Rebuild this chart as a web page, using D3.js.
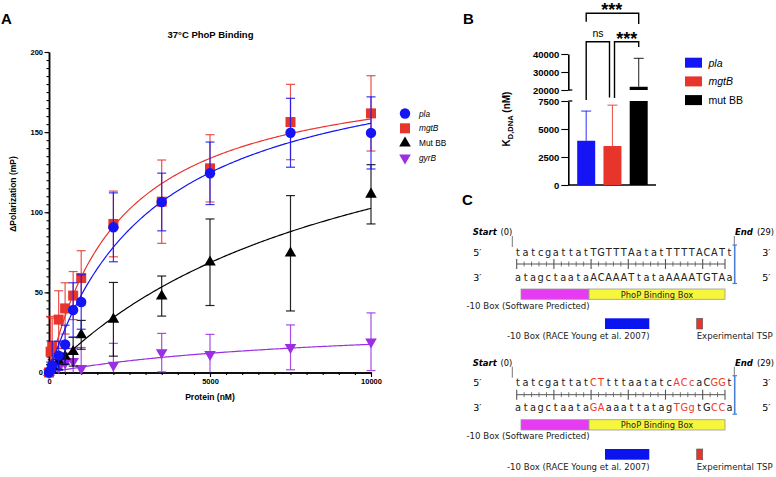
<!DOCTYPE html>
<html><head><meta charset="utf-8">
<script src="https://cdn.jsdelivr.net/npm/d3@7"></script>
<style>body{margin:0;background:#fff}</style>
</head><body><svg id="c" width="776" height="477"></svg>
<script>
// ---------- Panel A data ----------
const conc = [0, 50, 100, 300, 500, 750, 1000, 2000, 3500, 5000, 7500, 10000];
const plaMean  = [0, 1.5, 4.5, 10.5, 17.5, 39, 44, 90.6, 106.4, 124.3, 149.6, 149.5];
const plaSD    = [0, 5, 15, 9, 12, 17, 17, 21.5, 18, 19.5, 21.5, 22.5];
const mgtBMean = [0, 13, 16, 33, 40, 48, 59, 92.7, 106.6, 127.4, 156.3, 161.7];
const mgtBSD   = [0, 22, 18, 18, 16, 15, 17, 20.5, 26, 21, 23.5, 23.5];
const mutMean  = [0, 2, 4, 7, 10, 13, 23.5, 33.2, 47.7, 68.8, 74.4, 111.2];
const mutSD    = [0, 3, 4, 5, 5, 9, 9, 23, 12.5, 27, 36, 18.5];
const gyrBMean = [0, 0.5, 1, 3, 6, 7, 2.6, 4.7, 12.4, 11.3, 15.7, 19.2];
const gyrBSD   = [0, 2, 3, 5, 6, 8, 13, 13.5, 12, 12.5, 14, 18];
const seriesNames = ['pla', 'mgtB', 'Mut BB', 'gyrB'];
// one-site binding fit parameters (Bmax, Kd) per series
const fitBmax = [206.5, 193.9, 202.8, 33];
const fitKd   = [3280, 2255, 9800, 8760];
const xTicksA = [0, 5000, 10000];
const yTicksA = [0, 50, 100, 150, 200];

// ---------- Panel B data ----------
const kdCats = ['pla', 'mgtB', 'mut BB'];
const kdMean = [3950, 3480, 21800];
const kdErr  = [2650, 3650, 15800];
const yTicksBLow  = [0, 2500, 5000, 7500];
const yTicksBHigh = [20000, 30000, 40000];

// ---------- Panel C data ----------
const seq1Top = "tatcgattatTGTTTAatatTTTTACATt";
const seq1Bot = "atagctaataACAAATtataAAAATGTAa";
const seq2Top = "tatcgattatCTtttaatatcACcaCGGt";
const seq2Bot = "atagctaataGAaaattatagTGgtGCCa";
const seq2Mut = [10, 11, 21, 22, 23, 26, 27];

const BLUE = '#1414f5', RED = '#e8352b', BLACK = '#000', PURPLE = '#9a2fe3';
const svg = d3.select('#c');
svg.append('rect').attr('width', 776).attr('height', 477).attr('fill', '#fff');
const ARIAL = '"Liberation Sans", Arial, sans-serif';
const VERD = '"DejaVu Sans", Verdana, sans-serif';
const fmt = d3.format('d');

// ================= PANEL A =================
const xA = d3.scaleLinear().domain([0, 10000]).range([49, 371]);
const yA = d3.scaleLinear().domain([0, 200]).range([372.5, 52]);
const A = svg.append('g').attr('font-family', ARIAL);

A.append('text').attr('x', 1).attr('y', 24).attr('font-size', 15).attr('font-weight', 'bold').text('A');
A.append('text').attr('x', 210.5).attr('y', 38).attr('text-anchor', 'middle').attr('font-size', 9.5)
  .attr('font-weight', 'bold').text('37°C PhoP Binding');

function styleAxis(g, w) {
  g.select('.domain').attr('stroke', '#000').attr('stroke-width', w);
  g.selectAll('.tick line').attr('stroke', '#000').attr('stroke-width', 1.1);
  g.selectAll('text').attr('font-family', ARIAL).attr('font-weight', 'bold').attr('fill', '#000');
}
// minor ticks
const yMinor = d3.range(0, 201, 5), xMinor = d3.range(0, 10001, 500);
A.append('g').attr('transform', 'translate(49,0)')
  .call(d3.axisLeft(yA).tickValues(yMinor).tickSize(2.5).tickSizeOuter(0).tickFormat(''))
  .call(g => styleAxis(g, 1.5));
A.append('g').attr('transform', 'translate(0,372.5)')
  .call(d3.axisBottom(xA).tickValues(xMinor).tickSize(2.5).tickSizeOuter(0).tickFormat(''))
  .call(g => styleAxis(g, 1.5));
// major ticks
A.append('g').attr('transform', 'translate(49,0)')
  .call(d3.axisLeft(yA).tickValues(yTicksA).tickSize(4.5).tickPadding(1.5).tickSizeOuter(0).tickFormat(fmt))
  .call(g => styleAxis(g, 1.5)).attr('font-size', 7.5);
A.append('g').attr('transform', 'translate(0,372.5)')
  .call(d3.axisBottom(xA).tickValues(xTicksA).tickSize(4.5).tickPadding(2).tickSizeOuter(0).tickFormat(fmt))
  .call(g => styleAxis(g, 1.5)).attr('font-size', 7.5);

A.append('text').attr('x', 210).attr('y', 400).attr('text-anchor', 'middle').attr('font-size', 8.5)
  .attr('font-weight', 'bold').text('Protein (nM)');
A.append('text').attr('transform', 'translate(16,194) rotate(-90)').attr('text-anchor', 'middle')
  .attr('font-size', 8.5).attr('font-weight', 'bold').text('ΔPolarization (mP)');

const series = [
  {name: seriesNames[3], mean: gyrBMean, sd: gyrBSD, color: PURPLE, sym: 'down', bmax: fitBmax[3], kd: fitKd[3]},
  {name: seriesNames[2], mean: mutMean, sd: mutSD, color: BLACK, sym: 'up', bmax: fitBmax[2], kd: fitKd[2]},
  {name: seriesNames[1], mean: mgtBMean, sd: mgtBSD, color: RED, sym: 'square', bmax: fitBmax[1], kd: fitKd[1]},
  {name: seriesNames[0], mean: plaMean, sd: plaSD, color: BLUE, sym: 'circle', bmax: fitBmax[0], kd: fitKd[0]},
];
function marker(g, sym, x, y, color) {
  if (sym === 'circle') g.append('circle').attr('cx', x).attr('cy', y).attr('r', 5.2).attr('fill', color);
  else if (sym === 'square') g.append('rect').attr('x', x - 5).attr('y', y - 5).attr('width', 10).attr('height', 10).attr('fill', color);
  else {
    const p = d3.symbol().type(d3.symbolTriangle).size(58)();
    g.append('path').attr('d', p).attr('fill', color)
      .attr('transform', `translate(${x},${y})` + (sym === 'down' ? ' rotate(180)' : ''));
  }
}
const curveX = d3.range(0, 10001, 50);
series.forEach(s => {
  const g = A.append('g');
  conc.forEach((c, i) => {
    if (!s.sd[i]) return;
    const x = xA(c);
    const hi = s.mean[i] + s.sd[i];
    const loRaw = s.mean[i] - s.sd[i];
    const lo = Math.max(0, loRaw);
    g.append('line').attr('x1', x).attr('x2', x).attr('y1', yA(lo)).attr('y2', yA(hi))
      .attr('stroke', s.color).attr('stroke-width', 1.2).attr('opacity', 0.85);
    g.append('line').attr('x1', x - 4.5).attr('x2', x + 4.5).attr('y1', yA(hi)).attr('y2', yA(hi))
      .attr('stroke', s.color).attr('stroke-width', 1.2).attr('opacity', 0.85);
    if (loRaw > 0)
      g.append('line').attr('x1', x - 4.5).attr('x2', x + 4.5).attr('y1', yA(lo)).attr('y2', yA(lo))
        .attr('stroke', s.color).attr('stroke-width', 1.2).attr('opacity', 0.85);
  });
  g.append('path').datum(curveX)
    .attr('d', d3.line().x(d => xA(d)).y(d => yA(s.bmax * d / (s.kd + d))))
    .attr('fill', 'none').attr('stroke', s.color).attr('stroke-width', 1.2);
  conc.forEach((c, i) => marker(g, s.sym, xA(c), yA(s.mean[i]), s.color));
});

// legend A
const legA = A.append('g');
[series[3], series[2], series[1], series[0]].forEach((s, i) => {
  const y = 113.5 + i * 14.8;
  marker(legA, s.sym, 405, y, s.color);
  legA.append('text').attr('x', 419).attr('y', y + 3).attr('font-size', 8.3)
    .attr('font-style', s.name === 'Mut BB' ? 'normal' : 'italic').text(s.name);
});

// ================= PANEL B =================
const B = svg.append('g').attr('font-family', ARIAL);
B.append('text').attr('x', 463).attr('y', 24).attr('font-size', 15).attr('font-weight', 'bold').text('B');
const axX = 568.3;
const yLow = d3.scaleLinear().domain([0, 7500]).range([185, 101]);
const yHigh = d3.scaleLinear().domain([20000, 40000]).range([90, 54]);
const xB = d3.scalePoint().domain(kdCats).range([586.2, 638.7]);
const barW = 18;
const bColors = [BLUE, RED, BLACK];

B.append('g').attr('transform', `translate(${axX},0)`)
  .call(d3.axisLeft(yLow).tickValues(yTicksBLow).tickSize(7).tickPadding(2).tickSizeOuter(0).tickFormat(fmt))
  .call(g => styleAxis(g, 1.6)).attr('font-size', 9.5);
B.append('g').attr('transform', `translate(${axX},0)`)
  .call(d3.axisLeft(yHigh).tickValues(yTicksBHigh).tickSize(7).tickPadding(2).tickSizeOuter(0).tickFormat(fmt))
  .call(g => styleAxis(g, 1.6)).attr('font-size', 9.5);
[yLow(7500), yHigh(20000)].forEach(y => B.append('line').attr('x1', axX).attr('x2', axX + 4)
  .attr('y1', y).attr('y2', y).attr('stroke', '#000').attr('stroke-width', 1.3));
B.append('line').attr('x1', axX).attr('x2', 656).attr('y1', 185).attr('y2', 185)
  .attr('stroke', '#000').attr('stroke-width', 1.6);

kdCats.forEach((c, i) => {
  const cx = xB(c), v = kdMean[i], top = v + kdErr[i];
  const vl = Math.min(v, 7500);
  B.append('rect').attr('x', cx - barW / 2).attr('width', barW).attr('y', yLow(vl)).attr('height', yLow(0) - yLow(vl))
    .attr('fill', bColors[i]);
  let yTopBar;
  if (v > 20000) {
    B.append('rect').attr('x', cx - barW / 2).attr('width', barW).attr('y', yHigh(v)).attr('height', yHigh(20000) - yHigh(v))
      .attr('fill', bColors[i]);
    yTopBar = yHigh(v);
  } else yTopBar = yLow(v);
  const yErr = top > 20000 ? yHigh(top) : yLow(top);
  B.append('line').attr('x1', cx).attr('x2', cx).attr('y1', yTopBar).attr('y2', yErr)
    .attr('stroke', bColors[i]).attr('stroke-width', 1.1).attr('opacity', 0.8);
  B.append('line').attr('x1', cx - 5).attr('x2', cx + 5).attr('y1', yErr).attr('y2', yErr)
    .attr('stroke', bColors[i]).attr('stroke-width', 1.1).attr('opacity', 0.8);
});
B.append('text').attr('transform', 'translate(510,119) rotate(-90)').attr('text-anchor', 'middle')
  .attr('font-size', 10).attr('font-weight', 'bold')
  .call(t => {
    t.append('tspan').text('K');
    t.append('tspan').attr('font-size', 7.5).attr('dy', 2.5).text('D,DNA');
    t.append('tspan').attr('dy', -2.5).text(' (nM)');
  });
const br = (pts) => B.append('path').attr('d', d3.line()(pts)).attr('fill', 'none')
  .attr('stroke', '#000').attr('stroke-width', 1.4);
br([[xB('pla'), 21.7], [xB('pla'), 13.3], [xB('mut BB'), 13.3], [xB('mut BB'), 24]]);
br([[xB('pla'), 100], [xB('pla'), 41.7], [609.5, 41.7], [609.5, 97.5]]);
br([[614.5, 98], [614.5, 41.7], [xB('mut BB'), 41.7], [xB('mut BB'), 47]]);
B.append('text').attr('x', 611.7).attr('y', 16).attr('text-anchor', 'middle').attr('font-size', 18)
  .attr('font-weight', 'bold').text('***');
B.append('text').attr('x', 626.7).attr('y', 44.5).attr('text-anchor', 'middle').attr('font-size', 18)
  .attr('font-weight', 'bold').text('***');
B.append('text').attr('x', 598).attr('y', 36.5).attr('text-anchor', 'middle').attr('font-size', 10.5).text('ns');
kdCats.forEach((c, i) => {
  const y = 57.7 + i * 18.7;
  B.append('rect').attr('x', 685).attr('y', y).attr('width', 17).attr('height', 10).attr('fill', bColors[i]);
  B.append('text').attr('x', 708.5).attr('y', y + 9).attr('font-size', 10.5)
    .attr('font-style', i < 2 ? 'italic' : 'normal').text(c);
});

// ================= PANEL C =================
const C = svg.append('g').attr('font-family', VERD);
C.append('text').attr('x', 462).attr('y', 204.5).attr('font-family', ARIAL).attr('font-size', 15)
  .attr('font-weight', 'bold').text('C');
const charX = d3.scaleLinear().domain([0, 28]).range([518, 729.5]);
const rulerX = d3.scaleLinear().domain([0, 28]).range([516.7, 725]);

function drawSection(dy, top, bot, mut) {
  const g = C.append('g').attr('transform', `translate(0,${dy})`);
  g.append('text').attr('x', 472.7).attr('y', 235).attr('font-size', 8.5).attr('font-weight', 'bold')
    .attr('font-style', 'italic').text('Start');
  g.append('text').attr('x', 500.5).attr('y', 235).attr('font-size', 8.3).text('(0)');
  g.append('text').attr('x', 735).attr('y', 235).attr('font-size', 8.5).attr('font-weight', 'bold')
    .attr('font-style', 'italic').text('End');
  g.append('text').attr('x', 757).attr('y', 235).attr('font-size', 8.3).text('(29)');
  g.append('line').attr('x1', 512.3).attr('x2', 512.3).attr('y1', 236).attr('y2', 247).attr('stroke', '#777').attr('stroke-width', 1);
  g.append('line').attr('x1', 734.3).attr('x2', 734.3).attr('y1', 236).attr('y2', 246).attr('stroke', '#777').attr('stroke-width', 1);
  g.append('line').attr('x1', 734.7).attr('x2', 734.7).attr('y1', 245).attr('y2', 283.5).attr('stroke', '#4a7fd6').attr('stroke-width', 1.6);
  [245, 283.5].forEach(y => g.append('line').attr('x1', 732.5).attr('x2', 737).attr('y1', y).attr('y2', y)
    .attr('stroke', '#4a7fd6').attr('stroke-width', 1.2));
  g.append('text').attr('x', 473.3).attr('y', 255.7).attr('font-size', 9.5).text('5′');
  g.append('text').attr('x', 762.3).attr('y', 255.7).attr('font-size', 9.5).text('3′');
  g.append('text').attr('x', 473.3).attr('y', 280.7).attr('font-size', 9.5).text('3′');
  g.append('text').attr('x', 762.3).attr('y', 280.7).attr('font-size', 9.5).text('5′');
  [[top, 255.7], [bot, 280.7]].forEach(([s, y]) => {
    s.split('').forEach((ch, i) => {
      g.append('text').attr('x', charX(i)).attr('y', y).attr('text-anchor', 'middle').attr('font-size', 9.8)
        .attr('fill', mut.includes(i) ? '#ee3b2c' : '#222').text(ch);
    });
  });
  g.append('line').attr('x1', rulerX(0)).attr('x2', rulerX(28)).attr('y1', 264).attr('y2', 264).attr('stroke', '#555').attr('stroke-width', 1);
  d3.range(0, 29).forEach(i => {
    const major = i % 5 === 0 || i === 28;
    g.append('line').attr('x1', rulerX(i)).attr('x2', rulerX(i))
      .attr('y1', major ? 259 : 261.5).attr('y2', major ? 269 : 266.5)
      .attr('stroke', '#555').attr('stroke-width', major ? 1.1 : 0.8);
  });
  g.append('rect').attr('x', 521).attr('y', 289).attr('width', 68).attr('height', 10.3)
    .attr('fill', '#e83af2').attr('stroke', '#999').attr('stroke-width', 0.8);
  g.append('rect').attr('x', 589).attr('y', 289).attr('width', 136).attr('height', 10.3)
    .attr('fill', '#f6f63c').attr('stroke', '#999').attr('stroke-width', 0.8);
  g.append('text').attr('x', 657).attr('y', 297.6).attr('text-anchor', 'middle').attr('font-size', 8.3).attr('fill', '#222')
    .text('PhoP Binding Box');
  g.append('text').attr('x', 466.5).attr('y', 308.5).attr('font-size', 8.6).attr('fill', '#222').text('-10 Box (Software Predicted)');
  g.append('rect').attr('x', 605).attr('y', 318.3).attr('width', 44.3).attr('height', 10.7).attr('fill', '#0a14ee');
  g.append('rect').attr('x', 696.7).attr('y', 318.3).attr('width', 6).attr('height', 10.7)
    .attr('fill', '#e8352b').attr('stroke', '#555').attr('stroke-width', 0.6);
  g.append('text').attr('x', 507).attr('y', 339).attr('font-size', 8.6).attr('fill', '#222').text('-10 Box (RACE Young et al. 2007)');
  g.append('text').attr('x', 696.7).attr('y', 339).attr('font-size', 8.6).attr('fill', '#222').text('Experimental TSP');
}
drawSection(0, seq1Top, seq1Bot, []);
drawSection(130.7, seq2Top, seq2Bot, seq2Mut);
</script></body></html>
